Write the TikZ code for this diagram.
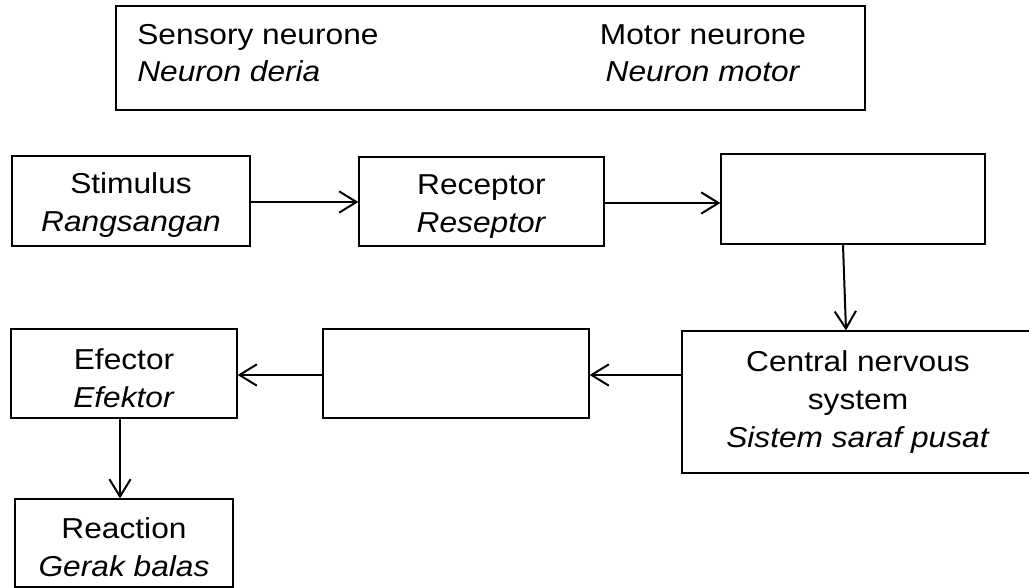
\documentclass[tikz,border=0pt]{standalone}
\usepackage{fontspec}
\setmainfont{Liberation Sans}[FakeStretch=1.1]
\usetikzlibrary{arrows.meta}
% taller first line so two-line labels sit a little lower in their boxes
\newcommand\firstlinestrut{\rule{0pt}{22pt}}
\begin{document}
\begin{tikzpicture}[x=0.75pt,y=-0.75pt,
  txt/.style={font=\fontsize{21.6pt}{28.5pt}\selectfont},
  box/.style={draw, line width=0.9pt, inner sep=0pt, align=center, txt},
  sz/.style 2 args={minimum width=#1*0.75pt, minimum height=#2*0.75pt},
  link/.style={line width=1.5pt, -{Straight Barb[length=13pt,width=16pt,line width=1.5pt]}}]
\useasboundingbox (0,0) rectangle (1029,588);
\clip (0,0) rectangle (1029,588);
\fill[white] (0,0) rectangle (1029,588);

% key box with the two neurone types
\node[box, sz={749}{104}] (key) at (490.5,58) {};
\node[txt, inner sep=0pt, anchor=base west] (sensory) at (137,45) {Sensory neurone};
\node[txt, inner sep=0pt, anchor=base west] (sensorym) at (137,82) {\textit{Neuron deria}};
\node[txt, inner sep=0pt, anchor=base] (motor) at (703,45) {Motor neurone};
\node[txt, inner sep=0pt, anchor=base] (motorm) at (703,82) {\textit{Neuron motor}};

% pathway boxes
\node[box, sz={238}{90}] (stim) at (131,201) {\firstlinestrut Stimulus\\\textit{Rangsangan}};
\node[box, sz={245}{89}] (recep) at (481.5,201.5) {\firstlinestrut Receptor\\\textit{Reseptor}};
\node[box, sz={264}{90}] (sensn) at (853,199) {};
\node[box, sz={352}{142}] (cns) at (858,402) {Central nervous\\system\\\textit{Sistem saraf pusat}};
\node[box, sz={266}{89}] (motn) at (456,373.5) {};
\node[box, sz={226}{89}] (eff) at (124,373.5) {\firstlinestrut Efector\\\textit{Efektor}};
\node[box, sz={218}{88}] (reac) at (124,543) {\firstlinestrut Reaction\\\textit{Gerak balas}};

% connectors
\draw[link] (stim.east |- 0,202) -- (recep.west |- 0,202);
\draw[link] (recep.east |- 0,203) -- (sensn.west |- 0,203);
\draw[link] (sensn.south -| 843,0) -- (cns.north -| 846,0);
\draw[link] (cns.west |- 0,375) -- (motn.east |- 0,375);
\draw[link] (motn.west |- 0,375) -- (eff.east |- 0,375);
\draw[link] (eff.south -| 120,0) -- (reac.north -| 120,0);
\end{tikzpicture}
\end{document}
